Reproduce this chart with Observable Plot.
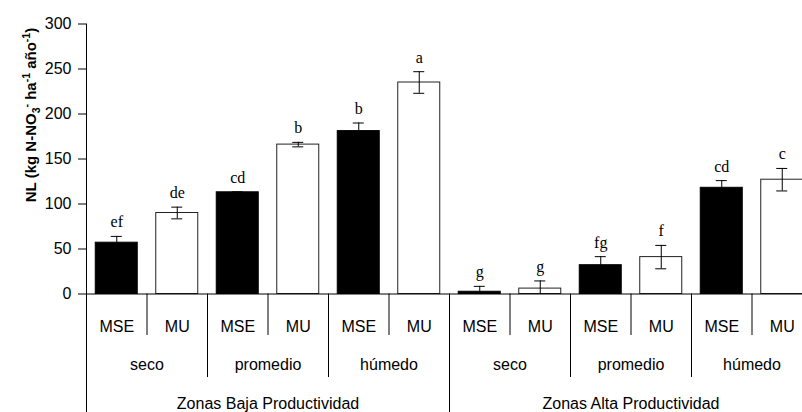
<!DOCTYPE html>
<html><head><meta charset="utf-8">
<script src="https://cdn.jsdelivr.net/npm/d3@7"></script>
<script src="https://cdn.jsdelivr.net/npm/@observablehq/plot@0.6"></script>
<style>html,body{margin:0;padding:0;background:#fff;overflow:hidden}</style>
</head><body><div id="chart"></div>
<script>
const zones = ["Zonas Baja Productividad", "Zonas Alta Productividad"];
const climates = ["seco", "promedio", "húmedo"];
const systems = ["MSE", "MU"];
const values = [57, 90, 113, 166, 181, 235, 2.5, 6, 32, 41, 118, 127];
const errors = [7, 6.5, 0.5, 2.5, 9, 12, 6, 8.5, 9.5, 13, 8, 12.5];
const letters = ["ef", "de", "cd", "b", "b", "a", "g", "g", "fg", "f", "cd", "c"];
const yTicks = [0, 50, 100, 150, 200, 250, 300];

const bars = [];
zones.forEach((z) => climates.forEach((c) => systems.forEach((s) => {
  const i = bars.length;
  bars.push({i, zone: z, climate: c, system: s, value: values[i], err: errors[i], letter: letters[i]});
})));
const climateGroups = [];
zones.forEach((z, zi) => climates.forEach((c, ci) => climateGroups.push({start: (zi * 3 + ci) * 2, label: c})));
const zoneGroups = zones.map((z, zi) => ({start: zi * 6, label: z}));
const nSlots = bars.length;
const sysSeps = bars.filter(d => d.system === "MSE").map(d => d.i + 1);
const climSeps = climateGroups.filter(g => g.start % 6 !== 0).map(g => g.start);
const zoneSeps = zoneGroups.map(g => g.start).concat([nSlots]);

const sans = "'Liberation Sans', Arial, sans-serif";
const serif = "'Liberation Serif', 'Times New Roman', serif";
const H = 412, yBase = 293.5;

const plot = Plot.plot({
  width: 802, height: H,
  marginLeft: 86, marginRight: 0, marginTop: 0, marginBottom: 0,
  style: {fontFamily: sans, fontSize: "16px", color: "#000", background: "#fff"},
  x: {type: "linear", domain: [0, nSlots], range: [86, 812], axis: null},
  y: {domain: [0, 300], range: [yBase, 23.5], axis: null},
  marks: [
    Plot.rect(bars.filter(d => d.system === "MSE"), {x1: "i", x2: d => d.i + 1, y1: 0, y2: "value", insetLeft: 9.25, insetRight: 9.25, fill: "#000", stroke: "#000"}),
    Plot.rect(bars.filter(d => d.system === "MU"), {x1: "i", x2: d => d.i + 1, y1: 0, y2: "value", insetLeft: 9.25, insetRight: 9.25, fill: "#fff", stroke: "#222"}),
    Plot.ruleX(bars, {x: d => d.i + 0.5, y1: d => Math.max(0, d.value - d.err), y2: d => d.value + d.err, stroke: "#000"}),
    Plot.ruleY(bars, {x1: "i", x2: d => d.i + 1, y: d => d.value + d.err, insetLeft: 24.75, insetRight: 24.75, stroke: "#000"}),
    Plot.ruleY(bars.filter(d => d.value - d.err > 0), {x1: "i", x2: d => d.i + 1, y: d => d.value - d.err, insetLeft: 24.75, insetRight: 24.75, stroke: "#000"}),
    Plot.text(bars, {x: d => d.i + 0.5, y: d => d.value + d.err, text: "letter", lineAnchor: "bottom", dy: -9, fontFamily: serif, fontSize: 16, fill: "#000"}),
    Plot.ruleY([0], {x1: 0, x2: nSlots, stroke: "#000"}),
    Plot.ruleX([0], {insetTop: 23.5, stroke: "#000"}),
    Plot.axisY(yTicks, {tickSize: 8, tickPadding: 7, label: null, fontSize: 16, stroke: "#000", fill: "#000"}),
    Plot.ruleX(sysSeps, {insetTop: yBase, insetBottom: H - 335, stroke: "#000"}),
    Plot.ruleX(climSeps, {insetTop: yBase, insetBottom: H - 377, stroke: "#000"}),
    Plot.ruleX(zoneSeps, {insetTop: yBase, stroke: "#000"}),
    Plot.text(bars, {x: d => d.i + 0.5, text: "system", frameAnchor: "bottom", lineAnchor: "bottom", dy: 331.5 - H, fontSize: 16, fill: "#000"}),
    Plot.text(climateGroups, {x: d => d.start + 1, text: "label", frameAnchor: "bottom", lineAnchor: "bottom", dy: 369.5 - H, fontSize: 16, fill: "#000"}),
    Plot.text(zoneGroups, {x: d => d.start + 3, text: "label", frameAnchor: "bottom", lineAnchor: "bottom", dy: 408 - H, fontSize: 16, fill: "#000"})
  ]
});
document.getElementById("chart").append(plot);

// y-axis title with sub/superscripts
const title = d3.select(plot).append("text")
  .attr("transform", "translate(35.5,115) rotate(-90)")
  .attr("text-anchor", "middle")
  .attr("fill", "#000")
  .style("font-family", sans).style("font-weight", "bold").style("font-size", "15px");
const parts = [
  {t: "NL (kg N-NO", dy: 0},
  {t: "3", dy: 4, s: 10.5},
  {t: "-", dy: -10, s: 10.5},
  {t: " ha", dy: 6},
  {t: "-1", dy: -6, s: 10.5},
  {t: " año", dy: 6},
  {t: "-1", dy: -6, s: 10.5},
  {t: ")", dy: 6}
];
parts.forEach(p => {
  const ts = title.append("tspan").attr("dy", p.dy).text(p.t);
  if (p.s) ts.style("font-size", p.s + "px");
});
</script>
</body></html>
